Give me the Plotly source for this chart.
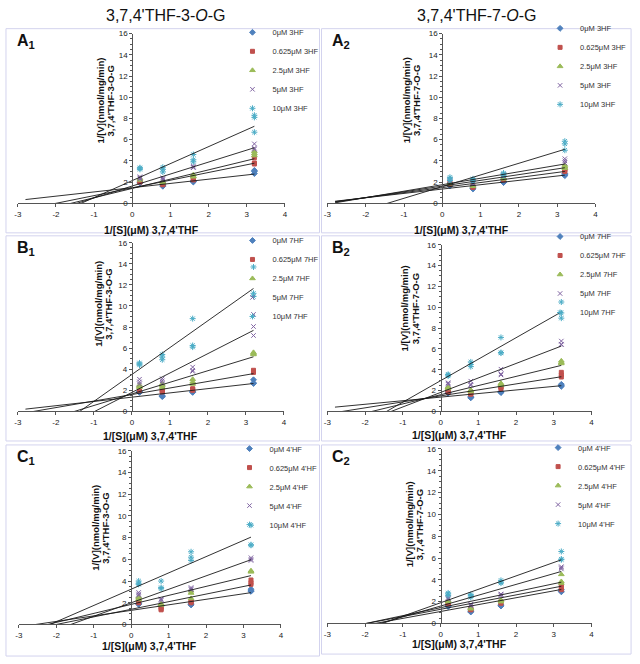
import numpy as np
import plotly.graph_objects as go

# ---------------- data ----------------
INV_S = [0.2, 0.8, 1.6, 3.2]                 # 1/[S] (µM^-1)
CONCS = ["0", "0.625", "2.5", "5", "10"]     # inhibitor concentrations (µM)
INHIB_A = "3HF"
INHIB_B = "7HF"
INHIB_C = "4'HF"
X_TICKS = [-3, -2, -1, 0, 1, 2, 3, 4]
X_TICKTEXT = ["-3", "-2", "-1", "0", "1", "2", "3", "4"]
Y_TICKS = [0, 2, 4, 6, 8, 10, 12, 14, 16]
BACK_FORECAST = 3.0                          # trendline extended backward (x units)

COL_TITLES = ["3,7,4'THF-3-<i>O</i>-G", "3,7,4'THF-7-<i>O</i>-G"]
Y_TITLE_1 = "1/[V](nmol/mg/min)"
Y_TITLE_2 = ["3,7,4'THF-3-O-G", "3,7,4'THF-7-O-G"]
X_TITLE = "1/[S](μM) 3,7,4'THF"

# replicate 1/V values: series (conc) -> per 1/[S] -> replicates
A1_POINTS = [
    [[1.9, 2.0, 1.95], [1.6, 1.65, 1.75], [2.0, 2.05, 2.1], [2.8, 3.0, 3.1]],
    [[2.0, 2.1, 2.05], [1.75, 1.8, 1.85], [2.2, 2.3, 2.25], [3.7, 3.8, 4.3]],
    [[2.2, 2.3, 2.35], [1.95, 2.0, 2.05], [2.5, 2.55, 2.7], [4.5, 4.7, 4.9]],
    [[2.3, 2.4, 2.5], [2.2, 2.3, 2.4], [3.35, 3.4, 3.5], [5.1, 5.2, 5.6]],
    [[3.2, 3.3, 3.35], [2.95, 3.2, 3.4], [3.9, 4.1, 4.6], [6.7, 8.1, 8.3]],
]
A1_SLOPE = [0.40, 0.727, 0.875, 1.127, 1.6]
A1_INTERCEPT = [1.47, 1.45, 1.4, 1.63, 2.14]

A2_POINTS = [
    [[1.65, 1.7, 1.75], [1.35, 1.4, 1.45], [1.95, 2.0, 2.05], [2.6, 2.7, 2.8]],
    [[1.8, 1.85, 1.9], [1.5, 1.55, 1.6], [2.2, 2.25, 2.3], [3.0, 3.1, 3.2]],
    [[1.85, 1.9, 1.95], [1.6, 1.65, 1.7], [2.3, 2.35, 2.4], [3.3, 3.45, 3.6]],
    [[2.05, 2.15, 2.2], [1.8, 1.85, 1.9], [2.55, 2.6, 2.7], [3.8, 4.0, 4.2]],
    [[2.15, 2.3, 2.45], [2.1, 2.2, 2.3], [2.6, 2.75, 2.85], [5.0, 5.6, 5.85]],
]
A2_SLOPE = [0.41, 0.475, 0.54, 0.61, 1.10]
A2_INTERCEPT = [1.34, 1.48, 1.62, 1.75, 1.57]

B1_POINTS = [
    [[1.8, 1.85, 1.9], [1.4, 1.45, 1.5], [1.8, 1.85, 1.9], [2.65, 2.7, 3.0]],
    [[2.0, 2.1, 2.2], [1.85, 1.9, 2.0], [2.0, 2.1, 2.15], [3.7, 3.8, 3.9]],
    [[2.3, 2.4, 2.5], [2.3, 2.45, 2.6], [2.6, 2.8, 3.05], [5.4, 5.5, 5.6]],
    [[2.6, 2.8, 3.05], [2.65, 2.9, 3.1], [3.8, 3.9, 4.2], [7.2, 8.05, 9.2]],
    [[4.4, 4.5, 4.6], [4.9, 5.15, 5.4], [6.1, 6.25, 8.8], [10.9, 11.2, 13.7]],
]
B1_SLOPE = [0.405, 0.62, 1.1, 1.84, 2.55]
B1_INTERCEPT = [1.35, 1.6, 1.66, 1.8, 3.5]

B2_POINTS = [
    [[1.75, 1.8, 1.85], [1.3, 1.35, 1.4], [1.8, 1.85, 1.9], [2.4, 2.5, 2.6]],
    [[1.85, 1.95, 2.05], [1.65, 1.7, 1.75], [2.2, 2.3, 2.35], [3.3, 3.5, 3.75]],
    [[2.2, 2.3, 2.35], [1.9, 2.0, 2.05], [2.5, 2.6, 2.7], [4.6, 4.7, 4.85]],
    [[2.6, 2.7, 2.75], [2.5, 2.6, 2.9], [3.5, 3.6, 4.05], [6.4, 6.45, 6.75]],
    [[3.4, 3.5, 3.55], [4.3, 4.5, 4.75], [5.6, 5.65, 7.1], [8.95, 9.45, 10.5]],
]
B2_SLOPE = [0.343, 0.574, 0.88, 1.39, 2.06]
B2_INTERCEPT = [1.37, 1.49, 1.6, 1.82, 2.95]

C1_POINTS = [
    [[1.85, 1.9, 1.95], [1.7, 1.75, 1.8], [1.8, 1.85, 1.9], [3.05, 3.1, 3.25]],
    [[2.0, 2.1, 2.2], [1.35, 1.45, 1.6], [2.0, 2.1, 2.15], [3.7, 3.85, 4.1]],
    [[2.3, 2.45, 2.55], [1.8, 1.85, 1.9], [2.4, 2.9, 3.1], [4.85, 4.9, 4.95]],
    [[2.7, 2.8, 2.95], [2.2, 2.3, 2.35], [3.2, 3.3, 3.4], [5.9, 6.0, 6.15]],
    [[3.7, 3.8, 4.0], [3.3, 3.4, 4.0], [5.9, 6.2, 6.7], [7.3, 7.35, 9.15]],
]
C1_SLOPE = [0.51, 0.70, 0.83, 1.24, 1.5]
C1_INTERCEPT = [1.3, 1.4, 1.85, 2.0, 3.25]

C2_POINTS = [
    [[1.55, 1.6, 1.65], [1.05, 1.1, 1.15], [1.6, 1.65, 1.7], [2.9, 2.95, 3.1]],
    [[1.8, 1.85, 1.9], [1.25, 1.3, 1.35], [1.85, 1.95, 2.0], [3.1, 3.3, 3.55]],
    [[2.0, 2.05, 2.1], [1.35, 1.4, 1.45], [2.0, 2.1, 2.15], [3.7, 3.85, 4.5]],
    [[2.25, 2.3, 2.4], [1.6, 1.7, 1.75], [2.55, 2.65, 2.7], [5.0, 5.1, 5.2]],
    [[2.55, 2.7, 2.8], [2.4, 2.55, 2.65], [3.7, 3.8, 3.95], [5.85, 5.9, 6.6]],
]
C2_SLOPE = [0.63, 0.66, 0.73, 0.99, 1.23]
C2_INTERCEPT = [1.1, 1.3, 1.45, 1.6, 1.9]

# ---------------- style / layout ----------------
W, H = 640, 664
FONT = "Liberation Sans, Arial, sans-serif"
COLORS = ["#4F81BD", "#C0504D", "#9BBB59", "#8064A2", "#4BACC6"]
SYMBOLS = ["diamond", "square", "triangle-up", "x-thin-open", "asterisk-open"]
SIZES = [4.5, 4, 5, 4.5, 5]
AX_COLOR = "#555555"
BORDER_COLOR = "#D3D3EE"


def px_x(p):
    return p / W


def px_y(p):
    return 1 - p / H


panels = [
    dict(lab="A", sub="1", pts=A1_POINTS, m=A1_SLOPE, b=A1_INTERCEPT, inh=INHIB_A, col=0,
         box=(14, 284, 30, 202), leg=(271, 35), yt=(98, 108, 98), xt=229, frame=(2, 319, 25, 232)),
    dict(lab="A", sub="2", pts=A2_POINTS, m=A2_SLOPE, b=A2_INTERCEPT, inh=INHIB_A, col=1,
         box=(327, 598, 30, 202), leg=(582, 31), yt=(407, 417, 98), xt=229, frame=(321, 634, 25, 232)),
    dict(lab="B", sub="1", pts=B1_POINTS, m=B1_SLOPE, b=B1_INTERCEPT, inh=INHIB_B, col=0,
         box=(14, 283, 242, 413), leg=(271, 246), yt=(96, 106, 304), xt=438, frame=(2, 319, 235, 443)),
    dict(lab="B", sub="2", pts=B2_POINTS, m=B2_SLOPE, b=B2_INTERCEPT, inh=INHIB_B, col=1,
         box=(327, 594, 244, 413), leg=(582, 242), yt=(405, 416, 309), xt=437, frame=(321, 634, 235, 443)),
    dict(lab="C", sub="1", pts=C1_POINTS, m=C1_SLOPE, b=C1_INTERCEPT, inh=INHIB_C, col=0,
         box=(15, 280, 453, 629), leg=(268, 457), yt=(93, 103, 531), xt=651, frame=(2, 319, 447, 661)),
    dict(lab="C", sub="2", pts=C2_POINTS, m=C2_SLOPE, b=C2_INTERCEPT, inh=INHIB_C, col=1,
         box=(327, 594, 451, 628), leg=(580, 456), yt=(410, 420, 528), xt=649, frame=(321, 634, 447, 659)),
]

fig = go.Figure()
layout = dict(
    width=W, height=H, margin=dict(l=0, r=0, t=0, b=0), autosize=False,
    paper_bgcolor="white", plot_bgcolor="rgba(0,0,0,0)",
    font=dict(family=FONT, color="#222222", size=8),
    showlegend=True,
)
annotations = []
shapes = []

for i, p in enumerate(panels):
    k = "" if i == 0 else str(i + 1)
    xa, ya = "x" + k, "y" + k
    legname = "legend" + k
    x0, x1, yt, yb = p["box"]
    yaxis_pos = px_x(x0 + (x1 - x0) * 3 / 7)

    for s in range(len(CONCS)):
        xs = [xv for xv, reps in zip(INV_S, p["pts"][s]) for _ in reps]
        ys = [v for reps in p["pts"][s] for v in reps]
        fig.add_trace(go.Scatter(
            x=xs, y=ys, mode="markers", xaxis=xa, yaxis=ya, legend=legname,
            name=f"{CONCS[s]}μM {p['inh']}",
            marker=dict(symbol=SYMBOLS[s], color=COLORS[s], size=SIZES[s],
                        line=dict(color=COLORS[s], width=1)),
            cliponaxis=False,
        ))
    for s in range(len(CONCS)):
        lx = np.array([min(INV_S) - BACK_FORECAST, max(INV_S)])
        ly = p["b"][s] + p["m"][s] * lx
        fig.add_trace(go.Scatter(
            x=lx, y=ly, mode="lines", xaxis=xa, yaxis=ya, showlegend=False,
            line=dict(color="#1a1a1a", width=0.9), hoverinfo="skip",
        ))

    layout["xaxis" + k] = dict(
        domain=[px_x(x0), px_x(x1)], range=[-3, 4], anchor=ya,
        tickvals=X_TICKS, ticktext=X_TICKTEXT, ticks="outside", ticklen=3,
        tickcolor=AX_COLOR, showline=True, linecolor=AX_COLOR, linewidth=1,
        showgrid=False, zeroline=False, tickfont=dict(size=8, color="#222222"),
    )
    layout["yaxis" + k] = dict(
        domain=[px_y(yb), px_y(yt)], range=[0, 16], anchor="free", position=yaxis_pos,
        tickvals=Y_TICKS, ticks="outside", ticklen=3, tickcolor=AX_COLOR,
        minor=dict(dtick=0.5, ticks="outside", ticklen=2, tickcolor=AX_COLOR),
        showline=True, linecolor=AX_COLOR, linewidth=1,
        showgrid=False, zeroline=False, tickfont=dict(size=8, color="#222222"),
    )
    lx_text, ly_first = p["leg"]
    layout[legname] = dict(
        x=px_x(lx_text - 40), y=px_y(ly_first - 5 - 16), xanchor="left", yanchor="top",
        bgcolor="rgba(0,0,0,0)", borderwidth=0,
        font=dict(size=7.5, family=FONT, color="#333333"), tracegroupgap=0,
    )
    annotations.append(dict(
        text=f"<b>{p['lab']}<sub>{p['sub']}</sub></b>", xref="paper", yref="paper",
        x=px_x(p["frame"][0] + 9), y=px_y(p["frame"][2] + 13), xanchor="left", yanchor="middle",
        showarrow=False, font=dict(size=16, family=FONT, color="#111111"),
    ))
    tx1, tx2, tcy = p["yt"]
    for txt, tx in ((Y_TITLE_1, tx1), (Y_TITLE_2[p["col"]], tx2)):
        annotations.append(dict(
            text=f"<b>{txt}</b>", xref="paper", yref="paper", x=px_x(tx), y=px_y(tcy),
            xanchor="center", yanchor="middle", textangle=-90, showarrow=False,
            font=dict(size=9.5, family=FONT, color="#111111"),
        ))
    annotations.append(dict(
        text=f"<b>{X_TITLE}</b>", xref="paper", yref="paper", x=px_x((x0 + x1) / 2), y=px_y(p["xt"]),
        xanchor="center", yanchor="middle", showarrow=False,
        font=dict(size=10.5, family=FONT, color="#111111"),
    ))
    fx0, fx1, fy0, fy1 = p["frame"]
    shapes.append(dict(type="rect", xref="paper", yref="paper", x0=px_x(fx0), x1=px_x(fx1),
                       y0=px_y(fy1), y1=px_y(fy0), line=dict(color=BORDER_COLOR, width=1), layer="below"))

for c, cx in enumerate((164, 478)):
    annotations.append(dict(
        text=COL_TITLES[c], xref="paper", yref="paper", x=px_x(cx), y=px_y(12),
        xanchor="center", yanchor="middle", showarrow=False,
        font=dict(size=16, family=FONT, color="#111111"),
    ))

layout["annotations"] = annotations
layout["shapes"] = shapes
fig.update_layout(**layout)
fig.write_html("out.html", config={"displayModeBar": False},
               post_script="document.body.style.margin='0px';")
